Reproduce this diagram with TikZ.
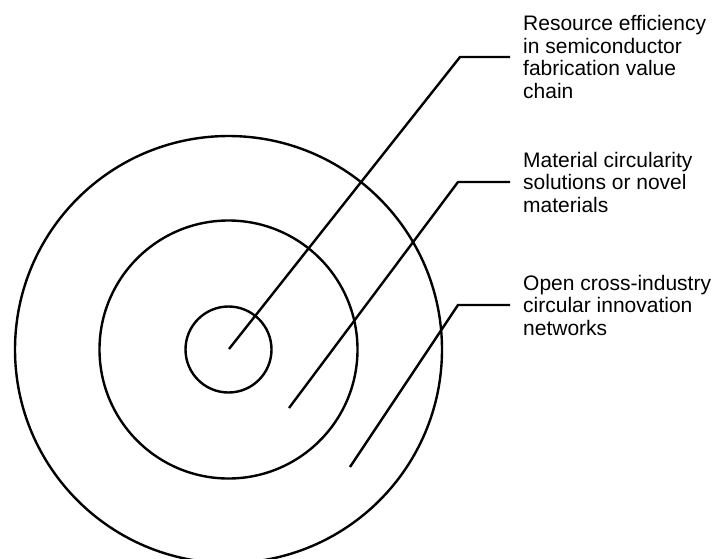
\documentclass[tikz,border=0pt]{standalone}
\usepackage{fontspec}
\setmainfont{Liberation Sans}
\begin{document}
\begin{tikzpicture}[x=1pt,y=-1pt,line width=2.4pt,
  lbl/.style={anchor=west,align=left,inner xsep=12pt,inner ysep=0pt,
    font=\fontsize{21}{22.5}\selectfont}]
\useasboundingbox (0,0) rectangle (715,558);
\clip (0,0) rectangle (715,558);
\coordinate (c) at (228.5,349.5);
\draw (c) circle[radius=43pt];
\draw (c) circle[radius=129pt];
\draw (c) circle[radius=213.5pt];

\coordinate (s1) at (229,349);
\coordinate (k1) at (460,57);
\coordinate (s2) at (289,408);
\coordinate (k2) at (458,182);
\coordinate (s3) at (350,467);
\coordinate (k3) at (458,305);
\node[lbl] (L1) at (510,57) {Resource efficiency\\in semiconductor\\fabrication value\\chain};
\node[lbl] (L2) at (510,182) {Material circularity\\solutions or novel\\materials};
\node[lbl] (L3) at (510,305) {Open cross-industry\\circular innovation\\networks};

\draw (s1)--(k1)--(L1.west);
\draw (s2)--(k2)--(L2.west);
\draw (s3)--(k3)--(L3.west);

\end{tikzpicture}
\end{document}
